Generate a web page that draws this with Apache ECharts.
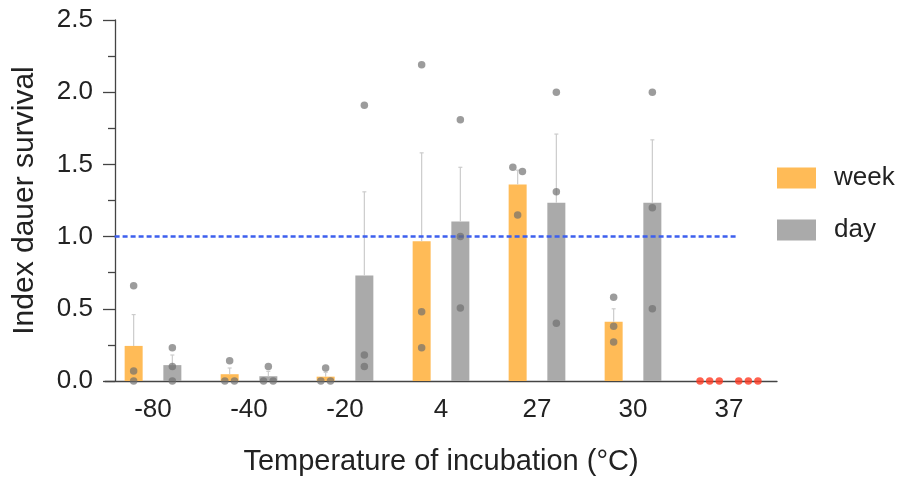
<!DOCTYPE html>
<html>
<head>
<meta charset="utf-8">
<script src="https://cdn.jsdelivr.net/npm/echarts@6/dist/echarts.min.js"></script>
<style>html,body{margin:0;padding:0;background:#fff}#c{width:906px;height:493px}</style>
</head>
<body>
<div id="c"></div>
<script>
// ---- data ----
const categories = ['-80', '-40', '-20', '4', '27', '30', '37'];
const seriesNames = ['week', 'day'];
const weekMean = [0.243, 0.047, 0.03, 0.967, 1.36, 0.41, 0];
const dayMean  = [0.11, 0.033, 0.73, 1.105, 1.235, 1.235, 0];
const weekErrTop = [0.46, 0.09, 0.06, 1.58, 1.46, 0.50, 0];
const dayErrTop  = [0.18, 0.067, 1.31, 1.48, 1.71, 1.67, 0];
const weekPoints = [[0.66, 0.07, 0], [0.14, 0, 0], [0.09, 0, 0], [2.19, 0.48, 0.23], [1.48, 1.45, 1.15], [0.58, 0.38, 0.27], [0, 0, 0]];
const dayPoints  = [[0.23, 0.10, 0], [0.10, 0, 0], [1.91, 0.18, 0.10], [1.81, 1.0, 0.505], [2.0, 1.31, 0.40], [2.0, 1.2, 0.5], [0, 0, 0]];
const referenceValue = 1.0;
const yTicks = [0, 0.5, 1.0, 1.5, 2.0, 2.5];

// ---- layout / style ----
const BAR_W = 18, BAR_GAP = 1.15, CAT_W = 96;
const sideOffset = ((BAR_W + BAR_W * BAR_GAP) / 2) / CAT_W; // in category units
const colors = { week: '#FFBB57', day: '#AAAAAA' };

function pointsData(points, side) {
  const out = [];
  points.forEach((vals, ci) => {
    const allZero = vals.every(v => v === 0);
    const used = new Array(vals.length).fill(false);
    vals.forEach((v, i) => {
      if (used[i]) return;
      const cl = [];
      vals.forEach((w, j) => { if (!used[j] && Math.abs(w - v) < 0.05) { cl.push(j); used[j] = true; } });
      cl.forEach((j, k) => {
        const jit = (k - (cl.length - 1) / 2) * 0.1;
        out.push({ value: [ci + 0.5 + side * sideOffset + jit, vals[j]],
                   itemStyle: { color: allZero ? '#FF3A22' : 'rgba(110,110,110,0.85)' } });
      });
    });
  });
  return out;
}
function errData(mean, top, side) {
  return mean.map((m, i) => [i + 0.5 + side * sideOffset, m, top[i]]);
}
function renderErr(params, api) {
  const x = api.value(0), m = api.value(1), t = api.value(2);
  if (t <= m) return null;
  const p0 = api.coord([x, m]), p1 = api.coord([x, t]);
  const st = { stroke: '#CCCCCC', lineWidth: 1.2 };
  return { type: 'group', children: [
    { type: 'line', shape: { x1: p0[0], y1: p0[1], x2: p1[0], y2: p1[1] }, style: st },
    { type: 'line', shape: { x1: p1[0] - 2, y1: p1[1], x2: p1[0] + 2, y2: p1[1] }, style: st }
  ]};
}

const chart = echarts.init(document.getElementById('c'), null, { renderer: 'canvas' });
const font = 'Liberation Sans, Arial, sans-serif';
chart.setOption({
  animation: false,
  textStyle: { fontFamily: font },
  grid: { left: 105, right: 129, top: 20, bottom: 112, containLabel: false },
  legend: {
    data: seriesNames, orient: 'vertical', left: 772, top: 160,
    itemWidth: 39, itemHeight: 21, itemGap: 26, icon: 'rect',
    textStyle: { fontSize: 26, color: '#222', fontFamily: font, padding: [0, 0, 0, 13] }
  },
  xAxis: [{
    type: 'category', data: categories, boundaryGap: true,
    axisLine: { lineStyle: { color: '#444', width: 1.3 } },
    axisTick: { alignWithLabel: true, length: 9, lineStyle: { color: '#444', width: 1.3 } },
    axisLabel: { fontSize: 26, color: '#222', margin: 16 },
    name: 'Temperature of incubation (°C)', nameLocation: 'middle', nameGap: 66,
    nameTextStyle: { fontSize: 29, color: '#222' }
  }, {
    type: 'value', min: 0, max: categories.length, show: false
  }],
  yAxis: {
    type: 'value', min: 0, max: 2.5, interval: 0.5, offset: -10,
    axisLine: { show: true, lineStyle: { color: '#444', width: 1.3 } },
    axisTick: { show: true, length: 12, lineStyle: { color: '#444', width: 1.3 } },
    minorTick: { show: true, splitNumber: 2, length: 7, lineStyle: { color: '#444', width: 1.3 } },
    splitLine: { show: false },
    axisLabel: { fontSize: 26, color: '#222', margin: 22, formatter: v => yTicks.includes(v) ? v.toFixed(1) : '' },
    name: 'Index dauer survival', nameLocation: 'middle', nameGap: 75,
    nameTextStyle: { fontSize: 30, color: '#222' }
  },
  series: [
    { name: 'week', type: 'bar', data: weekMean, barWidth: BAR_W, barGap: (BAR_GAP * 100) + '%', itemStyle: { color: colors.week }, z: 1 },
    { name: 'day', type: 'bar', data: dayMean, barWidth: BAR_W, itemStyle: { color: colors.day }, z: 1 },
    { type: 'custom', xAxisIndex: 1, renderItem: renderErr, data: errData(weekMean, weekErrTop, -1), z: 2, silent: true },
    { type: 'custom', xAxisIndex: 1, renderItem: renderErr, data: errData(dayMean, dayErrTop, 1), z: 2, silent: true },
    { type: 'line', xAxisIndex: 1, data: [[0.1, referenceValue], [6.58, referenceValue]], symbol: 'none',
      lineStyle: { color: '#3D5FEE', width: 2.5, type: [5, 3] }, z: 3, silent: true },
    { type: 'scatter', xAxisIndex: 1, data: pointsData(weekPoints, -1), symbolSize: 7.5, z: 4, silent: true },
    { type: 'scatter', xAxisIndex: 1, data: pointsData(dayPoints, 1), symbolSize: 7.5, z: 4, silent: true }
  ]
});
</script>
</body>
</html>
